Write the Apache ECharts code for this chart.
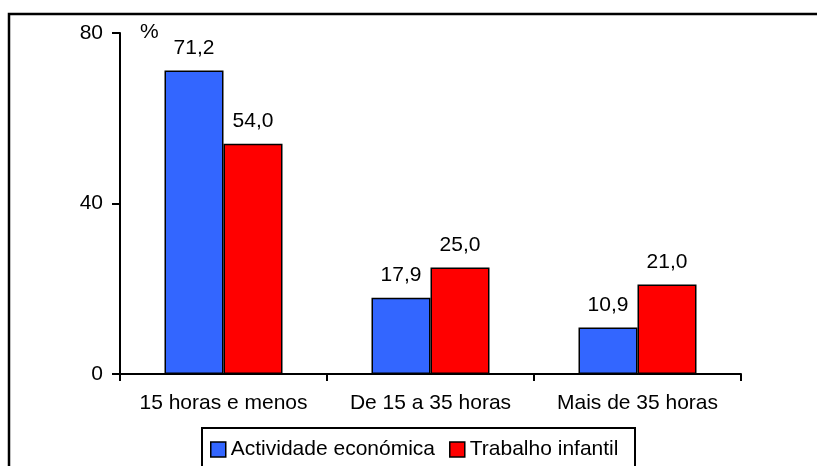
<!DOCTYPE html>
<html><head><meta charset="utf-8">
<script src="https://cdn.jsdelivr.net/npm/echarts@6/dist/echarts.min.js"></script>
<style>html,body{margin:0;padding:0;background:#fff}#c{width:817px;height:466px}</style>
</head><body><div id="c"></div>
<script>
const categories = ['15 horas e menos', 'De 15 a 35 horas', 'Mais de 35 horas'];
const seriesNames = ['Actividade económica', 'Trabalho infantil'];
const activityValues = [71.2, 17.9, 10.9];
const childLabourValues = [54.0, 25.0, 21.0];
const yTicks = [0, 40, 80];

const chart = echarts.init(document.getElementById('c'), null, {renderer: 'canvas'});
const font = 'Liberation Sans, Arial, sans-serif';
const fs = 21;
const lbl = {
  show: true, position: 'top', distance: 12, color: '#000', fontSize: fs, fontFamily: font,
  formatter: p => p.value.toFixed(1).replace('.', ',')
};
chart.setOption({
  animation: false,
  backgroundColor: '#fff',
  grid: {left: 120, right: 76, top: 33, bottom: 92},
  xAxis: {
    type: 'category', data: categories,
    axisLine: {lineStyle: {color: '#000', width: 2}},
    axisTick: {show: true, interval: 0, length: 7, lineStyle: {color: '#000', width: 2}},
    axisLabel: {color: '#000', fontSize: fs, fontFamily: font, margin: 19, interval: 0}
  },
  yAxis: {
    type: 'value', min: yTicks[0], max: yTicks[yTicks.length - 1], interval: 40,
    splitLine: {show: false},
    axisLine: {show: true, lineStyle: {color: '#000', width: 2}},
    axisTick: {show: true, length: 8, lineStyle: {color: '#000', width: 2}},
    axisLabel: {color: '#000', fontSize: fs, fontFamily: font, margin: 17}
  },
  legend: {
    data: seriesNames, left: 205, top: 434, itemWidth: 15, itemHeight: 15, itemGap: 14,
    icon: 'rect',
    itemStyle: {borderColor: '#000', borderWidth: 1.5},
    textStyle: {color: '#000', fontSize: fs, fontFamily: font}
  },
  graphic: [
    {type: 'polyline', shape: {points: [[9, 470], [9, 14], [820, 14]]}, style: {stroke: '#000', lineWidth: 2.5, fill: null}},
    {type: 'rect', shape: {x: 202, y: 428, width: 433, height: 50}, style: {stroke: '#000', lineWidth: 2, fill: null}},
    {type: 'text', left: 140, top: 22, style: {text: '%', fontSize: fs, fontFamily: font, fill: '#000'}}
  ],
  series: [
    {name: seriesNames[0], type: 'bar', data: activityValues, barWidth: 59, barGap: '0%',
     itemStyle: {color: '#3366FF', borderColor: '#000', borderWidth: 1.5}, label: lbl},
    {name: seriesNames[1], type: 'bar', data: childLabourValues, barWidth: 59, barGap: '0%',
     itemStyle: {color: '#FF0000', borderColor: '#000', borderWidth: 1.5}, label: lbl}
  ]
});
</script></body></html>
